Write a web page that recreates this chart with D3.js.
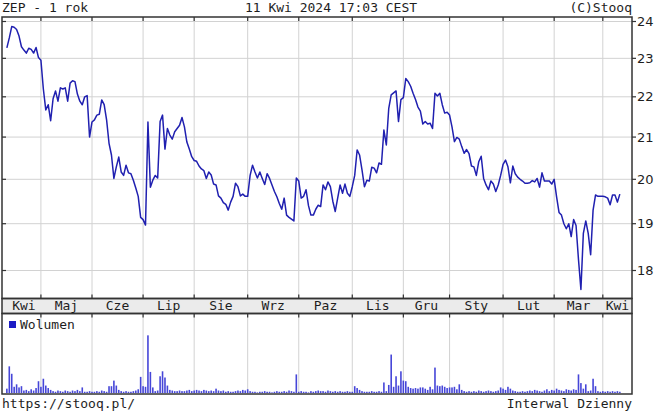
<!DOCTYPE html>
<meta charset="utf-8">
<style>
    body {
        margin: 0;
        background: #fff;
    }

    svg {
        display: block;
    }

    text {
        font-family: "DejaVu Sans Mono", monospace;
        font-size: 13px;
        fill: #1e1e1e;
    }

    .ylab {
        font-family: "DejaVu Sans", sans-serif;
        font-size: 13px;
    }
</style>

<body>
    <script src="https://cdn.jsdelivr.net/npm/d3@7"></script>
    <script>
        // months on the axis and the trading-day index where each one starts
        var monthLabels = ["Kwi", "Maj", "Cze", "Lip", "Sie", "Wrz", "Paz", "Lis", "Gru", "Sty", "Lut", "Mar", "Kwi"];
        var monthStart = [0, 14, 35, 56, 77, 99, 120, 142, 163, 182, 204, 225, 245];
        var priceTicks = [18, 19, 20, 21, 22, 23, 24];

        // daily close, 11 Apr 2023 .. 11 Apr 2024
        var closes = [
            23.28, 23.55, 23.86, 23.84, 23.78, 23.60, 23.31, 23.22, 23.14, 23.27,
            23.24, 23.14, 23.29, 23.02, 22.95, 22.20, 21.67, 21.80, 21.40, 21.95,
            22.15, 21.89, 22.23, 22.20, 22.23, 21.89, 22.35, 22.41, 22.39, 22.07,
            21.89, 21.80, 22.00, 22.03, 21.00, 21.37, 21.42, 21.54, 21.56, 21.92,
            21.80, 21.42, 20.85, 20.57, 20.02, 20.29, 20.52, 20.17, 20.09, 20.33,
            20.15, 20.13, 19.98, 19.80, 19.61, 19.14, 19.09, 18.97, 21.37, 19.82,
            19.98, 20.09, 20.03, 21.38, 21.54, 20.71, 21.21, 21.05, 20.95, 21.13,
            21.21, 21.29, 21.48, 21.25, 20.88, 20.71, 20.53, 20.44, 20.42, 20.31,
            20.24, 20.20, 20.02, 20.17, 20.10, 19.89, 19.87, 19.62, 19.57, 19.47,
            19.43, 19.30, 19.48, 19.61, 19.91, 19.83, 19.62, 19.66, 19.61, 19.61,
            20.09, 20.33, 20.17, 20.03, 20.17, 20.02, 19.88, 20.13, 20.02, 19.87,
            19.72, 19.60, 19.45, 19.32, 19.57, 19.19, 19.14, 19.10, 19.06, 20.03,
            19.96, 19.57, 19.61, 19.76, 19.40, 19.19, 19.19, 19.32, 19.41, 19.38,
            19.87, 19.76, 19.94, 19.83, 19.50, 19.27, 19.57, 19.87, 19.68, 19.89,
            19.68, 19.61, 19.83, 20.09, 20.69, 20.57, 20.22, 19.83, 19.98, 19.96,
            20.28, 20.26, 20.15, 20.38, 20.35, 21.17, 20.81, 21.71, 22.05, 22.10,
            22.15, 21.38, 21.93, 21.98, 22.47, 22.39, 22.27, 22.09, 21.93, 21.74,
            21.64, 21.32, 21.38, 21.32, 21.34, 21.21, 22.09, 22.02, 22.09, 21.80,
            21.59, 21.61, 21.54, 21.25, 20.89, 20.99, 20.95, 20.77, 20.61, 20.70,
            20.60, 20.31, 20.29, 20.09, 20.41, 20.54, 20.02, 19.87, 19.76, 19.96,
            19.89, 19.72, 19.87, 20.09, 20.35, 20.45, 20.29, 19.92, 20.31, 20.13,
            20.05, 20.00, 19.96, 19.91, 19.91, 19.92, 19.97, 19.94, 20.02, 19.82,
            20.15, 19.96, 19.96, 19.96, 19.89, 20.00, 19.60, 19.25, 19.19, 19.00,
            18.89, 19.00, 18.72, 19.09, 18.96, 18.23, 17.61, 18.79, 19.06, 18.79,
            18.33, 19.30, 19.64, 19.61, 19.61, 19.61, 19.60, 19.57, 19.42, 19.64,
            19.64, 19.48, 19.66
        ];

        // daily volume, thousands of shares
        var volumes = [
            7, 43, 31, 10, 14, 9, 11, 4, 5, 3,
            6, 4, 8, 19, 10, 23, 12, 8, 5, 3,
            2, 4, 3, 2, 4, 3, 2, 4, 3, 5,
            3, 9, 2, 2, 3, 2, 2, 3, 2, 4,
            3, 2, 11, 11, 20, 12, 5, 3, 2, 3,
            2, 2, 3, 4, 6, 26, 11, 10, 93, 34,
            9, 3, 4, 27, 35, 25, 12, 5, 4, 3,
            3, 4, 3, 3, 4, 5, 3, 4, 5, 4,
            3, 5, 4, 3, 4, 3, 7, 4, 3, 4,
            2, 3, 2, 2, 3, 4, 3, 5, 4, 6,
            3, 2, 2, 1, 2, 2, 3, 2, 2, 1,
            2, 3, 2, 2, 3, 2, 4, 3, 2, 30,
            2, 3, 2, 2, 1, 3, 2, 3, 4, 3,
            3, 2, 4, 3, 2, 3, 2, 3, 2, 2,
            3, 2, 2, 11, 8, 5, 3, 2, 2, 2,
            3, 2, 2, 3, 2, 17, 3, 13, 62, 10,
            27, 12, 35, 20, 19, 10, 8, 7, 8, 7,
            9, 9, 7, 5, 10, 6, 41, 12, 11, 12,
            10, 8, 9, 9, 10, 6, 14, 5, 3, 2,
            3, 2, 3, 2, 4, 3, 2, 3, 4, 3,
            2, 3, 4, 9, 7, 5, 10, 7, 4, 3,
            2, 2, 3, 2, 3, 4, 3, 5, 4, 3,
            2, 4, 6, 3, 5, 4, 7, 5, 4, 3,
            6, 5, 4, 6, 5, 30, 16, 7, 14, 3,
            4, 23, 11, 3, 2, 3, 2, 3, 2, 3,
            2, 3, 2
        ];

        var width = 655,
            height = 413,
            left = 2,
            right = 632,
            plotTop = 17,
            bandTop = 298.5,
            bandBottom = 313.5,
            volBottom = 394;

        var svg = d3.select("body").append("svg")
            .attr("width", width)
            .attr("height", height);

        var x = d3.scaleLinear()
            .domain([-2, 257])
            .range([left, right]);

        var y = d3.scaleLog()
            .domain([18, 24])
            .range([270.5, 21.5]);

        var yv = d3.scaleLinear()
            .domain([0, 100])
            .range([volBottom - 1, 331]);

        var gridMonths = monthStart.slice(1);

        // grid lines
        var grid = svg.append("g")
            .attr("stroke", "#d2d2d2")
            .attr("stroke-width", 1);

        grid.selectAll(".hg")
            .data(priceTicks)
            .enter().append("line")
            .attr("x1", left).attr("x2", right)
            .attr("y1", d => y(d)).attr("y2", d => y(d));

        grid.selectAll(".vg")
            .data(gridMonths)
            .enter().append("line")
            .attr("x1", d => x(d)).attr("x2", d => x(d))
            .attr("y1", plotTop).attr("y2", bandTop);

        grid.selectAll(".vg2")
            .data(gridMonths)
            .enter().append("line")
            .attr("x1", d => x(d)).attr("x2", d => x(d))
            .attr("y1", bandBottom).attr("y2", volBottom);

        // volume bars
        svg.append("g")
            .selectAll("rect")
            .data(volumes)
            .enter().append("rect")
            .attr("x", (d, i) => x(i) - 0.8)
            .attr("width", 1.6)
            .attr("y", d => yv(d))
            .attr("height", d => yv(0) - yv(d))
            .attr("fill", "#4646d8");

        // price line
        var line = d3.line()
            .x((d, i) => x(i))
            .y(d => y(d));

        svg.append("path")
            .datum(closes)
            .attr("d", line)
            .attr("fill", "none")
            .attr("stroke", "#2020b0")
            .attr("stroke-width", 1.5)
            .attr("stroke-linejoin", "round");

        // month band
        svg.append("rect")
            .attr("x", left).attr("y", bandTop)
            .attr("width", right - left).attr("height", bandBottom - bandTop)
            .attr("fill", "#ebebeb");

        // frames
        var frames = svg.append("g")
            .attr("fill", "none")
            .attr("stroke", "#333")
            .attr("stroke-width", 1.5);

        frames.append("rect")
            .attr("x", left).attr("y", plotTop)
            .attr("width", right - left).attr("height", bandTop - plotTop);
        frames.append("rect")
            .attr("x", left).attr("y", bandTop)
            .attr("width", right - left).attr("height", bandBottom - bandTop);
        frames.append("rect")
            .attr("x", left).attr("y", bandBottom)
            .attr("width", right - left).attr("height", volBottom - bandBottom);

        // tick marks
        var ticks = svg.append("g")
            .attr("stroke", "#333")
            .attr("stroke-width", 1.2);

        priceTicks.forEach(function(t) {
            ticks.append("line")
                .attr("x1", left).attr("x2", left + 4)
                .attr("y1", y(t)).attr("y2", y(t));
            ticks.append("line")
                .attr("x1", right).attr("x2", right + 4)
                .attr("y1", y(t)).attr("y2", y(t));
        });

        gridMonths.forEach(function(m) {
            var xm = x(m);
            [[plotTop, plotTop + 4], [bandTop - 4, bandTop], [bandBottom, bandBottom + 4]].forEach(function(s) {
                ticks.append("line")
                    .attr("x1", xm).attr("x2", xm)
                    .attr("y1", s[0]).attr("y2", s[1]);
            });
        });

        // y labels on the right
        svg.selectAll(".ylab")
            .data(priceTicks)
            .enter().append("text")
            .attr("class", "ylab")
            .attr("x", right + 5)
            .attr("y", d => y(d))
            .attr("dy", "0.36em")
            .text(d => d);

        // month labels centred between boundaries
        svg.selectAll(".mlab")
            .data(monthLabels)
            .enter().append("text")
            .attr("text-anchor", "middle")
            .attr("x", function(d, i) {
                var a = x(monthStart[i]);
                var b = i + 1 < monthStart.length ? x(monthStart[i + 1]) : right;
                return (a + b) / 2;
            })
            .attr("y", 310)
            .text(d => d);

        // header / footer
        svg.append("text").attr("x", 2).attr("y", 12).text("ZEP - 1 rok");
        svg.append("text").attr("x", 331).attr("y", 12).attr("text-anchor", "middle").text("11 Kwi 2024 17:03 CEST");
        svg.append("text").attr("x", right).attr("y", 12).attr("text-anchor", "end").text("(C)Stooq");
        svg.append("text").attr("x", 2).attr("y", 408).text("https://stooq.pl/");
        svg.append("text").attr("x", right).attr("y", 408).attr("text-anchor", "end").text("Interwal Dzienny");

        // legend
        svg.append("rect")
            .attr("x", 9).attr("y", 321)
            .attr("width", 7).attr("height", 7)
            .attr("fill", "#1c1cc4");
        svg.append("text").attr("x", 20).attr("y", 329).text("Wolumen");
    </script>
</body>

</html>
